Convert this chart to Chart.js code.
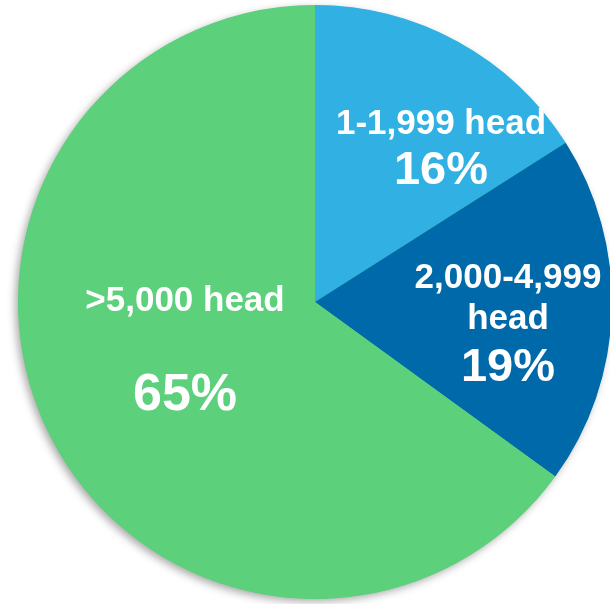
<!DOCTYPE html>
<html>
<head>
<meta charset="utf-8">
<script src="https://cdn.jsdelivr.net/npm/chart.js@4/dist/chart.umd.min.js"></script>
<style>
  html, body { margin: 0; padding: 0; background: #ffffff; overflow: hidden; }
  #wrap { width: 630px; height: 604px; }
</style>
</head>
<body>
<div id="wrap"><canvas id="c" width="630" height="604"></canvas></div>
<script>
// Data
const categories = [["1-1,999 head"], ["2,000-4,999", "head"], [">5,000 head"]];
const shares = [16, 19, 65];
const sliceColors = ["#31B0E3", "#0069AA", "#5CD07A"];

// Label layout (offsets from pie centre, px) and fonts
const labelLayout = [
  { dx: 126, lines: [-168], pctDy: -118, pctSize: 47 },
  { dx: 193, lines: [-14, 27], pctDy: 79, pctSize: 47 },
  { dx: -130, lines: [9], pctDy: 108, pctSize: 52 }
];

const shadowPlugin = {
  id: 'pieShadow',
  beforeDatasetsDraw(chart) {
    const arc = chart.getDatasetMeta(0).data[0];
    if (!arc) return;
    const ctx = chart.ctx;
    ctx.save();
    ctx.shadowColor = 'rgba(0,0,0,0.35)';
    ctx.shadowBlur = 9;
    ctx.shadowOffsetX = -3;
    ctx.shadowOffsetY = 3;
    ctx.fillStyle = '#5CD07A';
    ctx.beginPath();
    ctx.arc(arc.x, arc.y, arc.outerRadius - 0.5, 0, Math.PI * 2);
    ctx.fill();
    ctx.restore();
  }
};

const labelPlugin = {
  id: 'sliceLabels',
  afterDatasetsDraw(chart) {
    const meta = chart.getDatasetMeta(0);
    const ctx = chart.ctx;
    const data = chart.data.datasets[0].data;
    ctx.save();
    ctx.fillStyle = '#ffffff';
    ctx.textAlign = 'center';
    ctx.textBaseline = 'alphabetic';
    meta.data.forEach((arc, i) => {
      const lay = labelLayout[i];
      const cx = arc.x + lay.dx, cy = arc.y;
      const lines = chart.data.labels[i];
      ctx.font = 'bold 35px "Liberation Sans", Arial, sans-serif';
      lines.forEach((t, j) => ctx.fillText(t, cx, cy + lay.lines[j]));
      ctx.font = 'bold ' + lay.pctSize + 'px "Liberation Sans", Arial, sans-serif';
      ctx.fillText(data[i] + '%', cx, cy + lay.pctDy);
    });
    ctx.restore();
  }
};

new Chart(document.getElementById('c'), {
  type: 'pie',
  data: {
    labels: categories,
    datasets: [{
      data: shares,
      backgroundColor: sliceColors,
      borderWidth: 0,
      hoverOffset: 0,
      offset: 0
    }]
  },
  options: {
    responsive: false,
    animation: false,
    devicePixelRatio: 1,
    layout: { padding: 5 },
    plugins: { legend: { display: false }, tooltip: { enabled: false } }
  },
  plugins: [shadowPlugin, labelPlugin]
});
</script>
</body>
</html>
